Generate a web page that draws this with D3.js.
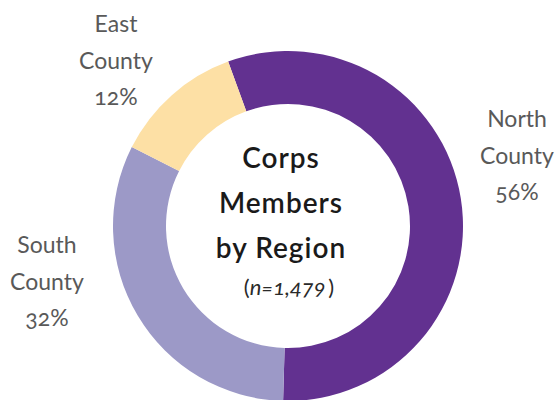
<!DOCTYPE html>
<html>
<head>
<meta charset="utf-8">
<script src="https://cdn.jsdelivr.net/npm/d3@7"></script>
<style>
  body { margin: 0; background: #fff; }
  svg text { font-family: Lato, "Open Sans", sans-serif; font-variant-numeric: oldstyle-nums; }
</style>
</head>
<body>
<div id="chart"></div>
<script>
// regions, going clockwise from the top
var regions = ["North County", "South County", "East County"];
var shares = [56, 32, 12];
var colors = ["#623190", "#9c99c7", "#fde0a5"];
var titleLines = ["Corps", "Members", "by Region"];
var sampleSize = "1,479";

var width = 556, height = 400;
var cx = 288, cy = 226,
  outerR = 175, innerR = 122;

var svg = d3.select("#chart")
  .append("svg")
  .attr("width", width)
  .attr("height", height);

var g = svg.append("g")
  .attr("transform", "translate(" + cx + "," + cy + ")");

var start = -20 * Math.PI / 180;
var pie = d3.pie()
  .sort(null)
  .startAngle(start)
  .endAngle(start + 2 * Math.PI);

var arc = d3.arc()
  .innerRadius(innerR)
  .outerRadius(outerR);

var arcs = pie(shares);

g.selectAll("path")
  .data(arcs)
  .enter()
  .append("path")
  .attr("d", arc)
  .attr("fill", function (d, i) { return colors[i]; });

// outside labels, placed by hand next to each slice
var labelPos = [
  { x: 517, y: 127 },
  { x: 47, y: 253 },
  { x: 116, y: 32 }
];
var lineGap = 36.5;

regions.forEach(function (name, i) {
  var words = name.split(" ");
  var lines = [words[0], words[1], shares[i] + "%"];
  var t = svg.append("text")
    .attr("text-anchor", "middle")
    .attr("fill", "#595959")
    .style("font-size", "23px");
  lines.forEach(function (l, j) {
    t.append("tspan")
      .attr("x", labelPos[i].x)
      .attr("y", labelPos[i].y + j * lineGap)
      .text(l);
  });
});

// title in the middle
var title = svg.append("text")
  .attr("text-anchor", "middle")
  .attr("fill", "#1a1a1a")
  .style("font-size", "28px")
  .style("font-weight", "600")
  .style("letter-spacing", "1px");
titleLines.forEach(function (l, j) {
  title.append("tspan")
    .attr("x", 281)
    .attr("y", 168 + j * 45)
    .text(l);
});

var nText = svg.append("text")
  .attr("x", 289)
  .attr("y", 295)
  .attr("text-anchor", "middle")
  .attr("fill", "#2a2a2a")
  .style("font-size", "22px");
nText.append("tspan").text("(");
nText.append("tspan").style("font-style", "italic").text("n=" + sampleSize);
nText.append("tspan").text("\u2009)");
</script>
</body>
</html>
